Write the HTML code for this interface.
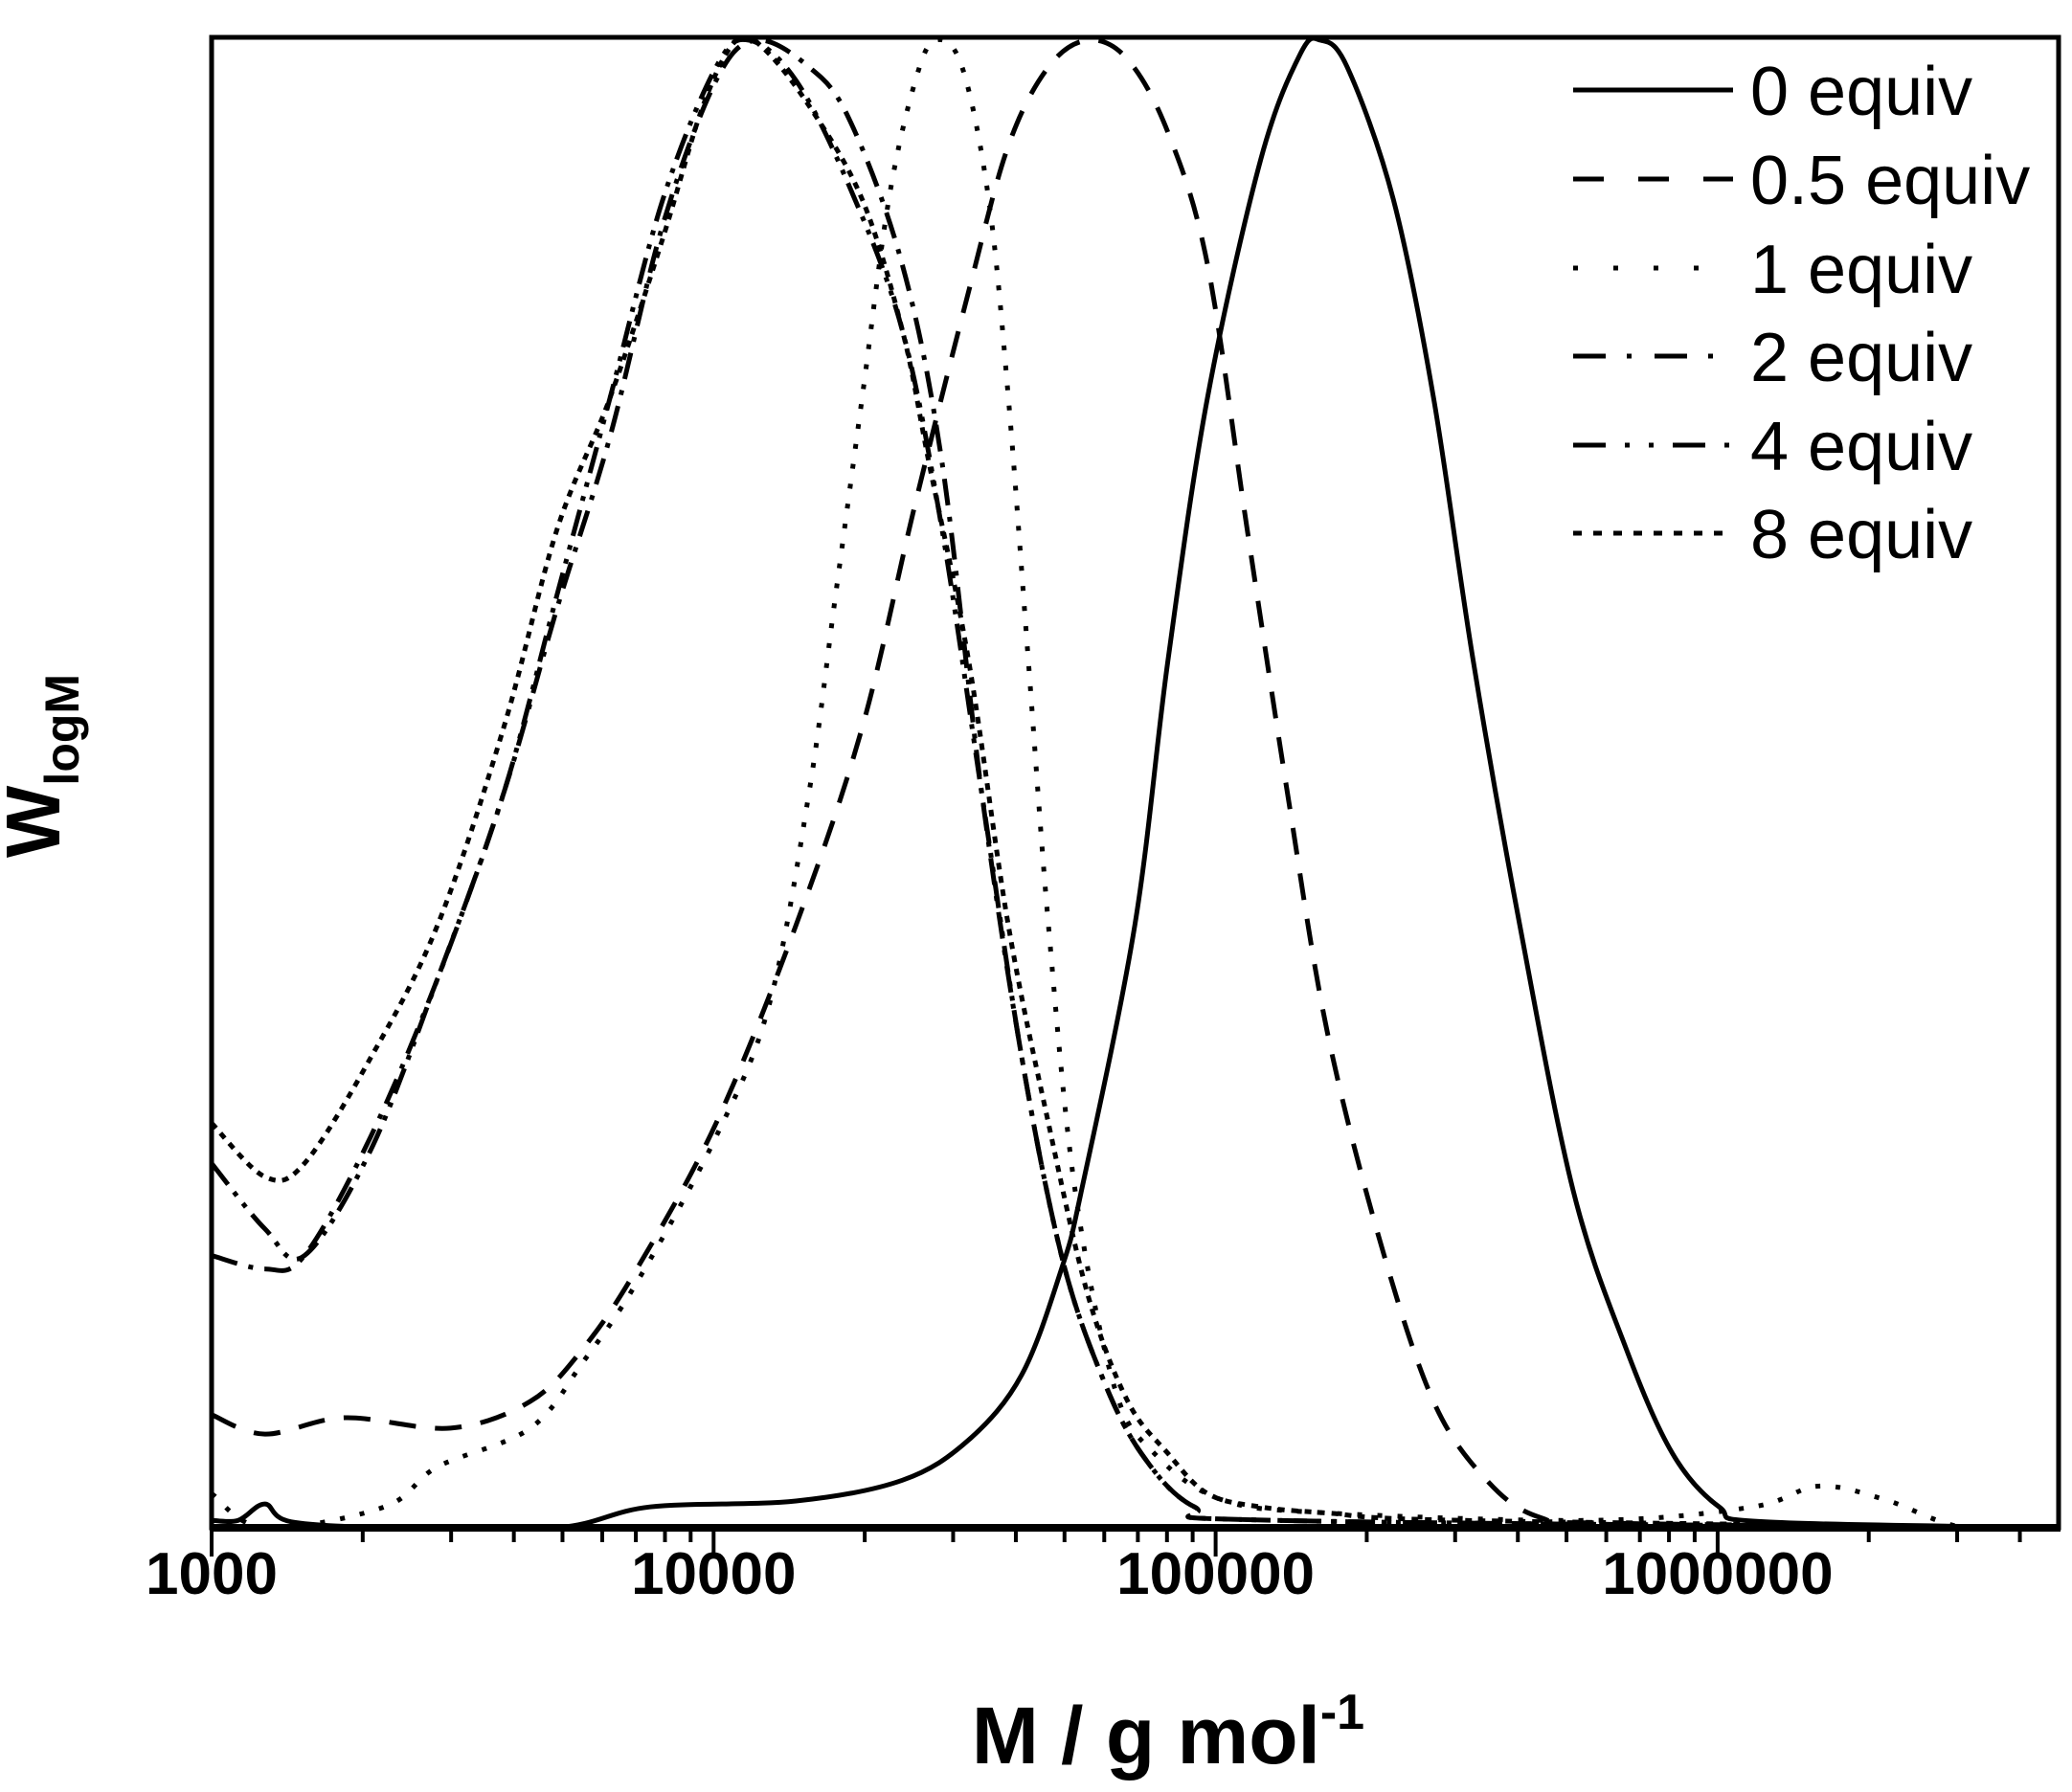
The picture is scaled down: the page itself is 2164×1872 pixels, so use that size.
<!DOCTYPE html>
<html><head><meta charset="utf-8"><style>
body{margin:0;background:#fff}
svg{display:block}
text{font-family:"Liberation Sans",Arial,sans-serif;fill:#000}
</style></head><body>
<svg id="chart" width="2164" height="1872" viewBox="0 0 2164 1872">
<g id="plot"></g>
<text x="1220" y="1842" text-anchor="middle" font-size="84" font-weight="bold">M / g mol<tspan dy="-36" font-size="52">-1</tspan></text>
<g transform="translate(62,800) rotate(-90)"><text x="0" y="0" text-anchor="middle" font-size="80" font-weight="bold">W<tspan dy="20" font-size="50">logM</tspan></text></g>
<g id="legend">
<g><line x1="1643" x2="1810" y1="94" y2="94" stroke="#000" stroke-width="5"/><text x="1828" y="120" font-size="72">0 equiv</text></g>
<g><line x1="1643" x2="1810" y1="187" y2="187" stroke="#000" stroke-width="5" stroke-dasharray="32 36"/><text x="1828" y="213" font-size="72">0.5 equiv</text></g>
<g><line x1="1643" x2="1810" y1="280" y2="280" stroke="#000" stroke-width="5" stroke-dasharray="5 37"/><text x="1828" y="306" font-size="72">1 equiv</text></g>
<g><line x1="1643" x2="1810" y1="372" y2="372" stroke="#000" stroke-width="5" stroke-dasharray="34 22 5 24"/><text x="1828" y="398" font-size="72">2 equiv</text></g>
<g><line x1="1643" x2="1810" y1="465" y2="465" stroke="#000" stroke-width="5" stroke-dasharray="34 20 5 20 5 20"/><text x="1828" y="491" font-size="72">4 equiv</text></g>
<g><line x1="1643" x2="1810" y1="557" y2="557" stroke="#000" stroke-width="5" stroke-dasharray="9 12"/><text x="1828" y="583" font-size="72">8 equiv</text></g>
</g>
</svg>
<script>
const tickValues=[1000,10000,100000,1000000];
const tickLabels=["1000","10000","100000","1000000"];
const seriesNames=["0 equiv","0.5 equiv","1 equiv","2 equiv","4 equiv","8 equiv"];
const logM_0=[3.000,3.053,3.106,3.159,3.370,3.688,3.873,4.164,4.376,4.508,4.614,4.693,4.733,4.839,4.905,4.984,5.090,5.169,5.209,5.262,5.354,5.434,5.513,5.606,5.712,5.817,5.910,6.003,6.095,6.693];
const w_0=[0.005,0.005,0.016,0.004,0,0,0.014,0.018,0.032,0.059,0.103,0.174,0.227,0.405,0.583,0.760,0.920,0.991,1.0,0.982,0.893,0.760,0.583,0.405,0.227,0.121,0.050,0.014,0.004,0];
const logM_05=[3.000,3.106,3.265,3.476,3.635,3.741,3.847,4.005,4.164,4.296,4.402,4.508,4.587,4.667,4.746,4.825,4.905,4.984,5.063,5.143,5.222,5.328,5.434,5.540,5.646,5.804,6.693];
const w_05=[0.076,0.063,0.074,0.067,0.085,0.121,0.174,0.272,0.405,0.538,0.689,0.831,0.929,0.982,1.0,0.987,0.938,0.849,0.671,0.494,0.334,0.192,0.085,0.032,0.007,0.003,0];
const logM_1=[3.000,3.106,3.344,3.450,3.635,3.741,3.847,4.005,4.111,4.190,4.243,4.296,4.349,4.402,4.442,4.495,4.548,4.587,4.627,4.667,4.720,4.799,4.878,5.011,5.222,5.751,6.069,6.201,6.333,6.492,6.693];
const w_1=[0.023,0,0.014,0.041,0.067,0.112,0.165,0.263,0.352,0.494,0.627,0.760,0.893,0.973,1.0,0.982,0.893,0.760,0.583,0.405,0.227,0.094,0.050,0.019,0.010,0.005,0.014,0.028,0.019,0,0];
const logM_2=[3.000,3.106,3.185,3.317,3.450,3.582,3.688,3.794,3.899,4.005,4.085,4.190,4.270,4.376,4.455,4.534,4.614,4.693,4.772,4.852,4.958,5.116,6.693];
const w_2=[0.183,0.174,0.183,0.263,0.369,0.494,0.618,0.734,0.876,0.973,1.0,0.982,0.947,0.849,0.716,0.494,0.316,0.183,0.103,0.050,0.014,0.005,0];
const logM_4=[3.000,3.106,3.185,3.317,3.450,3.582,3.688,3.794,3.899,4.005,4.071,4.164,4.270,4.376,4.455,4.534,4.614,4.693,4.772,4.852,4.958,5.116,6.693];
const w_4=[0.245,0.201,0.183,0.254,0.369,0.494,0.627,0.760,0.893,0.982,1.0,0.973,0.902,0.805,0.671,0.494,0.316,0.183,0.103,0.050,0.014,0.005,0];
const logM_8=[3.000,3.106,3.185,3.317,3.450,3.582,3.688,3.794,3.899,3.979,4.045,4.098,4.190,4.296,4.376,4.429,4.508,4.587,4.667,4.746,4.825,4.905,4.984,5.090,5.222,5.487,6.693];
const w_8=[0.272,0.236,0.245,0.316,0.405,0.538,0.671,0.760,0.867,0.956,1.0,0.995,0.956,0.893,0.805,0.716,0.583,0.405,0.272,0.156,0.085,0.050,0.023,0.014,0.010,0.005,0];

const X0=221,X1=2150,Y0=1596,Y1=42,DEC=524.3;
const xs=lm=>X0+(lm-3)*DEC;
const ys=w=>Y0-w*(Y0-Y1);
const NS="http://www.w3.org/2000/svg";
const plot=document.getElementById('plot');
function mk(tag,attrs,parent){const e=document.createElementNS(NS,tag);for(const k in attrs)e.setAttribute(k,attrs[k]);(parent||plot).appendChild(e);return e;}
function smooth(xa,ya){
  const p=xa.map((v,i)=>[xs(v),ys(ya[i])]);
  let d="M"+p[0][0].toFixed(1)+","+p[0][1].toFixed(1);
  for(let i=0;i<p.length-1;i++){
    const a=p[Math.max(i-1,0)],b=p[i],c=p[i+1],e=p[Math.min(i+2,p.length-1)];
    const c1=[b[0]+(c[0]-a[0])/6,b[1]+(c[1]-a[1])/6],c2=[c[0]-(e[0]-b[0])/6,c[1]-(e[1]-b[1])/6];
    d+=`C${c1[0].toFixed(1)},${c1[1].toFixed(1)} ${c2[0].toFixed(1)},${c2[1].toFixed(1)} ${c[0].toFixed(1)},${c[1].toFixed(1)}`;
  }
  return d;
}
const dashes=["","28 20","5 16","28 12 5 12","28 10 5 10 5 10","7 7"];
const data=[[logM_0,w_0],[logM_05,w_05],[logM_1,w_1],[logM_2,w_2],[logM_4,w_4],[logM_8,w_8]];
const clip=mk('clipPath',{id:'pc'});mk('rect',{x:X0,y:39,width:X1-X0,height:Y0-39},clip);
const g=mk('g',{'clip-path':'url(#pc)'});


data.forEach((s,i)=>{
  const p=mk('path',{d:smooth(s[0],s[1]),fill:'none',stroke:'#000','stroke-width':5,'stroke-dasharray':dashes[i]},g);
  
  
});
const fr=mk('rect',{x:X0,y:39,width:X1-X0,height:Y0-39,fill:'none',stroke:'#000','stroke-width':5});


const xa=mk('line',{x1:X0-2,x2:X1+2,y1:Y0,y2:Y0,stroke:'#000','stroke-width':8});


for(let d=3;d<=6;d++){
  for(let m=1;m<10;m++){
    const lm=d+Math.log10(m);const x=xs(lm);if(x>X1+1)break;
    const t=mk('line',{x1:x,x2:x,y1:Y0,y2:Y0+(m===1?30:15),stroke:'#000','stroke-width':4});
    
    
  }
}
tickValues.forEach((v,i)=>{
  const t=mk('text',{x:xs(Math.log10(v)),y:1665,'text-anchor':'middle','font-size':62,'font-weight':'bold'});
  t.textContent=tickLabels[i];
  
  
});
</script>
</body></html>
